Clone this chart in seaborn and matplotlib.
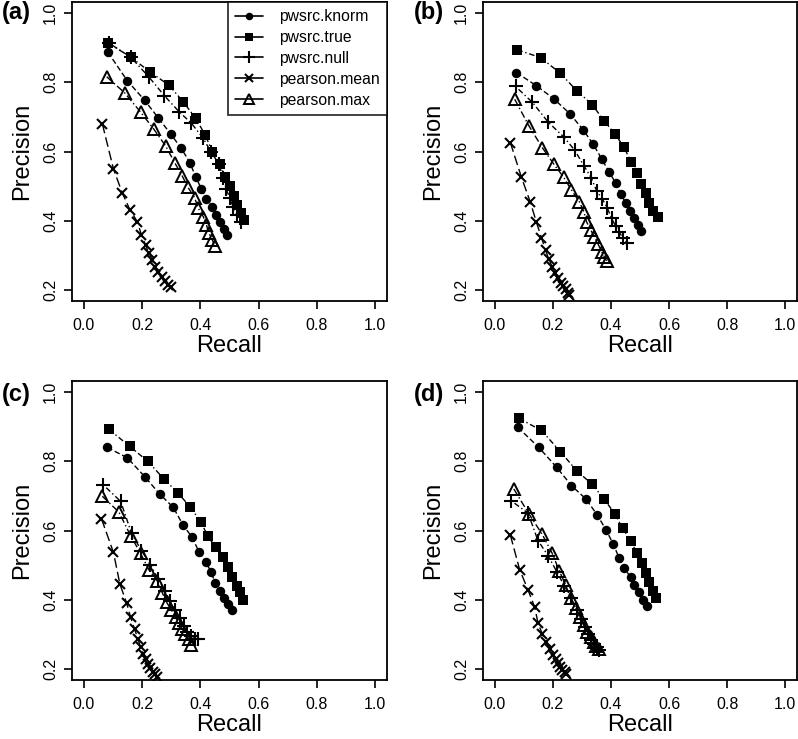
import numpy as np
import pandas as pd
import matplotlib
matplotlib.use("Agg")
import matplotlib.pyplot as plt
from matplotlib.lines import Line2D
import seaborn as sns

methods = ["pwsrc.knorm", "pwsrc.true", "pwsrc.null", "pearson.mean", "pearson.max"]

# panel (a)
a_knorm_r = [0.083, 0.150, 0.209, 0.256, 0.298, 0.334, 0.364, 0.384, 0.403, 0.421, 0.441, 0.455, 0.469, 0.481, 0.492]
a_knorm_p = [0.887, 0.804, 0.748, 0.697, 0.651, 0.610, 0.568, 0.527, 0.493, 0.462, 0.441, 0.417, 0.396, 0.376, 0.360]
a_true_r = [0.085, 0.161, 0.229, 0.292, 0.341, 0.384, 0.416, 0.441, 0.467, 0.484, 0.500, 0.515, 0.526, 0.538, 0.549]
a_true_p = [0.913, 0.873, 0.829, 0.792, 0.744, 0.696, 0.649, 0.600, 0.564, 0.527, 0.499, 0.470, 0.444, 0.423, 0.402]
a_null_r = [0.087, 0.161, 0.224, 0.277, 0.327, 0.369, 0.410, 0.437, 0.464, 0.478, 0.489, 0.501, 0.513, 0.526, 0.541]
a_null_p = [0.913, 0.873, 0.815, 0.761, 0.715, 0.682, 0.638, 0.598, 0.564, 0.523, 0.491, 0.465, 0.439, 0.417, 0.395]
a_mean_r = [0.064, 0.102, 0.132, 0.159, 0.184, 0.198, 0.212, 0.224, 0.235, 0.244, 0.256, 0.267, 0.278, 0.289, 0.298]
a_mean_p = [0.680, 0.550, 0.481, 0.431, 0.397, 0.359, 0.330, 0.306, 0.287, 0.267, 0.253, 0.238, 0.226, 0.214, 0.208]
a_max_r = [0.079, 0.140, 0.195, 0.241, 0.281, 0.312, 0.338, 0.358, 0.380, 0.393, 0.410, 0.421, 0.429, 0.441, 0.449]
a_max_p = [0.816, 0.770, 0.714, 0.664, 0.616, 0.568, 0.529, 0.496, 0.467, 0.436, 0.412, 0.388, 0.364, 0.345, 0.328]

# panel (b)
b_knorm_r = [0.075, 0.144, 0.204, 0.259, 0.305, 0.339, 0.368, 0.393, 0.417, 0.433, 0.452, 0.466, 0.480, 0.492, 0.503]
b_knorm_p = [0.828, 0.790, 0.752, 0.709, 0.662, 0.621, 0.579, 0.542, 0.508, 0.477, 0.451, 0.429, 0.407, 0.388, 0.371]
b_true_r = [0.078, 0.159, 0.226, 0.282, 0.336, 0.376, 0.414, 0.445, 0.469, 0.491, 0.503, 0.521, 0.532, 0.546, 0.561]
b_true_p = [0.894, 0.871, 0.826, 0.776, 0.735, 0.689, 0.651, 0.612, 0.571, 0.539, 0.505, 0.479, 0.451, 0.428, 0.410]
b_null_r = [0.072, 0.130, 0.184, 0.239, 0.276, 0.307, 0.333, 0.351, 0.371, 0.388, 0.402, 0.416, 0.429, 0.441, 0.456]
b_null_p = [0.788, 0.742, 0.685, 0.641, 0.603, 0.559, 0.523, 0.486, 0.462, 0.436, 0.407, 0.385, 0.366, 0.351, 0.335]
b_mean_r = [0.054, 0.092, 0.123, 0.144, 0.161, 0.175, 0.186, 0.198, 0.207, 0.218, 0.227, 0.236, 0.244, 0.251, 0.255]
b_mean_p = [0.626, 0.526, 0.453, 0.395, 0.351, 0.316, 0.289, 0.267, 0.250, 0.234, 0.221, 0.212, 0.202, 0.192, 0.185]
b_max_r = [0.069, 0.118, 0.164, 0.204, 0.238, 0.264, 0.291, 0.307, 0.316, 0.331, 0.342, 0.356, 0.368, 0.377, 0.385]
b_max_p = [0.751, 0.674, 0.611, 0.563, 0.525, 0.489, 0.455, 0.426, 0.397, 0.373, 0.354, 0.332, 0.311, 0.296, 0.284]

# panel (c)
c_knorm_r = [0.081, 0.150, 0.209, 0.260, 0.307, 0.340, 0.372, 0.395, 0.419, 0.438, 0.450, 0.467, 0.480, 0.496, 0.509]
c_knorm_p = [0.840, 0.810, 0.756, 0.706, 0.667, 0.617, 0.580, 0.539, 0.508, 0.479, 0.449, 0.424, 0.405, 0.388, 0.371]
c_true_r = [0.087, 0.158, 0.220, 0.275, 0.324, 0.366, 0.401, 0.426, 0.453, 0.478, 0.496, 0.510, 0.524, 0.535, 0.547]
c_true_p = [0.892, 0.843, 0.800, 0.749, 0.708, 0.667, 0.626, 0.583, 0.551, 0.523, 0.494, 0.467, 0.441, 0.421, 0.399]
c_null_r = [0.067, 0.127, 0.164, 0.198, 0.229, 0.255, 0.278, 0.296, 0.312, 0.330, 0.344, 0.355, 0.369, 0.380, 0.393]
c_null_p = [0.732, 0.684, 0.592, 0.542, 0.501, 0.460, 0.426, 0.397, 0.371, 0.346, 0.325, 0.308, 0.294, 0.287, 0.287]
c_mean_r = [0.061, 0.102, 0.124, 0.147, 0.161, 0.175, 0.186, 0.195, 0.204, 0.212, 0.220, 0.229, 0.237, 0.244, 0.250]
c_mean_p = [0.634, 0.537, 0.446, 0.391, 0.349, 0.314, 0.287, 0.262, 0.243, 0.229, 0.214, 0.202, 0.192, 0.184, 0.176]
c_max_r = [0.064, 0.121, 0.161, 0.195, 0.224, 0.252, 0.270, 0.284, 0.300, 0.315, 0.326, 0.338, 0.349, 0.361, 0.369]
c_max_p = [0.699, 0.653, 0.585, 0.534, 0.486, 0.455, 0.419, 0.393, 0.371, 0.349, 0.333, 0.316, 0.301, 0.287, 0.269]

# panel (d)
d_knorm_r = [0.080, 0.152, 0.213, 0.264, 0.314, 0.353, 0.383, 0.408, 0.428, 0.446, 0.468, 0.480, 0.497, 0.509, 0.523]
d_knorm_p = [0.898, 0.840, 0.783, 0.730, 0.691, 0.645, 0.602, 0.561, 0.521, 0.491, 0.465, 0.443, 0.421, 0.399, 0.383]
d_true_r = [0.084, 0.161, 0.226, 0.282, 0.336, 0.376, 0.414, 0.440, 0.468, 0.489, 0.506, 0.521, 0.532, 0.544, 0.554]
d_true_p = [0.924, 0.889, 0.828, 0.773, 0.733, 0.691, 0.648, 0.606, 0.571, 0.535, 0.505, 0.477, 0.450, 0.426, 0.404]
d_null_r = [0.057, 0.115, 0.149, 0.184, 0.215, 0.239, 0.264, 0.282, 0.297, 0.310, 0.322, 0.333, 0.342, 0.353, 0.359]
d_null_p = [0.686, 0.650, 0.571, 0.527, 0.479, 0.441, 0.404, 0.371, 0.345, 0.320, 0.301, 0.284, 0.272, 0.262, 0.255]
d_mean_r = [0.054, 0.086, 0.115, 0.138, 0.149, 0.164, 0.178, 0.190, 0.201, 0.210, 0.218, 0.226, 0.233, 0.241, 0.247]
d_mean_p = [0.587, 0.487, 0.428, 0.378, 0.333, 0.301, 0.277, 0.258, 0.241, 0.228, 0.216, 0.207, 0.198, 0.190, 0.184]
d_max_r = [0.066, 0.118, 0.163, 0.198, 0.222, 0.244, 0.262, 0.279, 0.295, 0.308, 0.319, 0.331, 0.341, 0.350, 0.359]
d_max_p = [0.720, 0.648, 0.590, 0.534, 0.484, 0.443, 0.404, 0.375, 0.349, 0.327, 0.308, 0.291, 0.279, 0.267, 0.258]

panels = {
    "(a)": [(a_knorm_r, a_knorm_p), (a_true_r, a_true_p), (a_null_r, a_null_p), (a_mean_r, a_mean_p), (a_max_r, a_max_p)],
    "(b)": [(b_knorm_r, b_knorm_p), (b_true_r, b_true_p), (b_null_r, b_null_p), (b_mean_r, b_mean_p), (b_max_r, b_max_p)],
    "(c)": [(c_knorm_r, c_knorm_p), (c_true_r, c_true_p), (c_null_r, c_null_p), (c_mean_r, c_mean_p), (c_max_r, c_max_p)],
    "(d)": [(d_knorm_r, d_knorm_p), (d_true_r, d_true_p), (d_null_r, d_null_p), (d_mean_r, d_mean_p), (d_max_r, d_max_p)],
}

rows = []
for panel, series in panels.items():
    for m, (r, p) in zip(methods, series):
        for i, (ri, pi) in enumerate(zip(r, p)):
            rows.append({"panel": panel, "method": m, "idx": i, "Recall": ri, "Precision": pi})
df = pd.DataFrame(rows)

sns.set_style("ticks")
plt.rcParams["font.family"] = ["Liberation Sans", "DejaVu Sans"]
plt.rcParams["text.color"] = "black"
plt.rcParams["axes.labelcolor"] = "black"
plt.rcParams["xtick.color"] = "black"
plt.rcParams["ytick.color"] = "black"

style = {
    "pwsrc.knorm": dict(marker="o", ms=6.8, mfc="black", mew=0, ls=(0, (4, 2))),
    "pwsrc.true": dict(marker="s", ms=6.5, mfc="black", mew=0, ls=(0, (4, 2, 1, 2))),
    "pwsrc.null": dict(marker="+", ms=10, mfc="black", mew=1.5, ls=(0, (1, 2, 4, 2))),
    "pearson.mean": dict(marker="x", ms=7.5, mfc="black", mew=1.5, ls=(0, (7, 3))),
    "pearson.max": dict(marker="^", ms=8.5, mfc="none", mew=1.4, ls=(0, (5, 2, 1, 2))),
}

W, H = 798, 739
fig = plt.figure(figsize=(W / 100, H / 100), dpi=100)
boxes = {
    "(a)": (72, 2, 315, 299),
    "(b)": (483, 2, 314, 299),
    "(c)": (72, 381, 315, 299),
    "(d)": (483, 381, 314, 299),
}
label_pos = {"(a)": (2, 13), "(b)": (414, 13), "(c)": (2, 394), "(d)": (414, 394)}

for panel, (x0, y0, w, h) in boxes.items():
    ax = fig.add_axes([x0 / W, 1 - (y0 + h) / H, w / W, h / H])
    sub = df[df["panel"] == panel]
    for m in methods:
        st = style[m]
        d = sub[sub["method"] == m]
        sns.lineplot(data=d, x="Recall", y="Precision", ax=ax, color="black",
                     estimator=None, sort=False, linewidth=1.0,
                     marker=st["marker"], markersize=st["ms"], markerfacecolor=st["mfc"],
                     markeredgecolor="black", markeredgewidth=st["mew"],
                     linestyle=st["ls"])
    ax.set_xlim(-0.04, 1.04)
    ax.set_ylim(0.168, 1.032)
    ax.set_xticks([0.0, 0.2, 0.4, 0.6, 0.8, 1.0])
    ax.set_yticks([0.2, 0.4, 0.6, 0.8, 1.0])
    ax.set_xticklabels(["0.0", "0.2", "0.4", "0.6", "0.8", "1.0"])
    ax.set_yticklabels(["0.2", "0.4", "0.6", "0.8", "1.0"])
    ax.tick_params(axis="both", direction="out", length=6, width=1.2, labelsize=11.5,
                   color="black", labelcolor="black")
    ax.tick_params(axis="y", labelrotation=90, pad=4)
    ax.tick_params(axis="x", pad=6)
    for lab in ax.get_yticklabels():
        lab.set_va("center")
    for s in ax.spines.values():
        s.set_visible(True)
        s.set_linewidth(1.3)
        s.set_color("black")
    ax.set_xlabel("Recall", fontsize=17, labelpad=2)
    ax.set_ylabel("Precision", fontsize=17, labelpad=7)
    lx, ly = label_pos[panel]
    fig.text(lx / W, 1 - ly / H, panel, fontsize=17, fontweight="bold", va="center", ha="left")

    if panel == "(a)":
        handles = [Line2D([], [], color="black", lw=1.2, marker=style[m]["marker"],
                          markersize=style[m]["ms"] * 0.8, markerfacecolor=style[m]["mfc"],
                          markeredgecolor="black", markeredgewidth=style[m]["mew"])
                   for m in methods]
        leg = ax.legend(handles, methods, loc="upper right", fontsize=11.3, frameon=True,
                        fancybox=False, borderaxespad=0, handlelength=1.8, handletextpad=1.0,
                        labelspacing=0.38, borderpad=0.45)
        leg.get_frame().set_edgecolor("black")
        leg.get_frame().set_linewidth(1.3)

fig.savefig("out.png", dpi=100)
